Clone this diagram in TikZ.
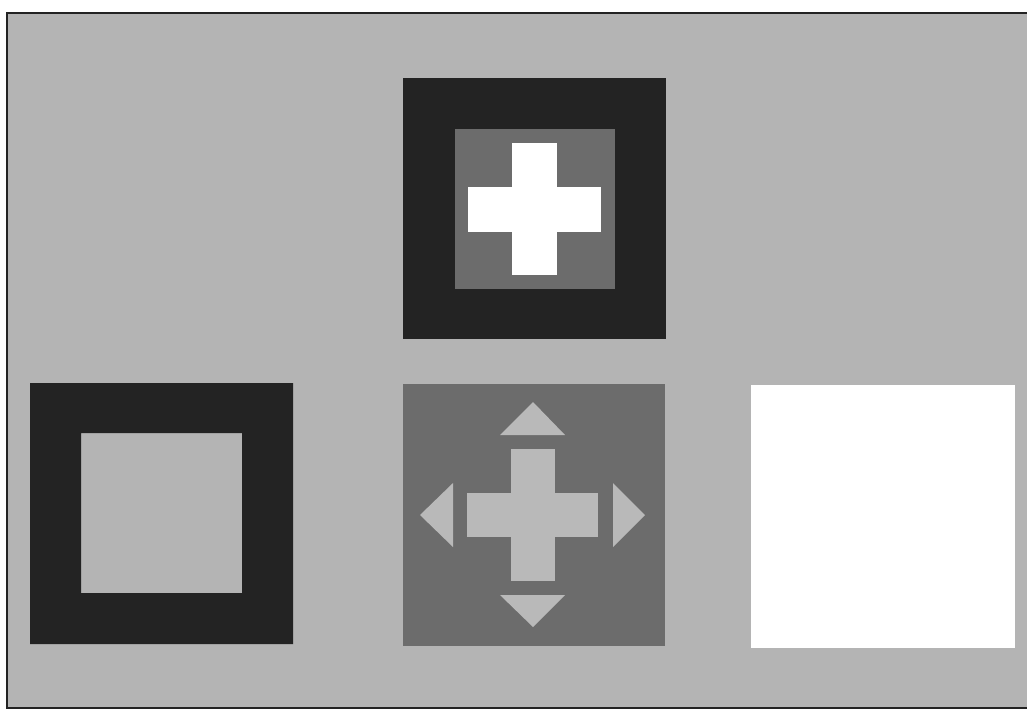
\documentclass[tikz,border=0pt]{standalone}
\usepackage{tikz}
\usepackage{xcolor}
\definecolor{paper}{HTML}{b4b4b4}
\definecolor{ink}{HTML}{232323}
\definecolor{mid}{HTML}{6c6c6c}
\definecolor{pale}{HTML}{b9b9b9}

\begin{document}
\begin{tikzpicture}[x=0.02cm, y=-0.02cm,
  frame/.style={draw=ink, line width=1.2pt},
  blk/.style={fill=ink},
  gry/.style={fill=mid},
  lit/.style={fill=pale},
  wht/.style={fill=white}
]
  \useasboundingbox (0,0) rectangle (1027,711);
  \fill[white] (0,0) rectangle (1027,711);
  \fill[paper] (7,13) rectangle (1027,708);
  \draw[frame] (1027,13) -- (7,13) -- (7,708) -- (1027,708);

  % top: dark frame, grey square, white cross
  \fill[blk] (403,78) rectangle (666,339);
  \fill[gry] (455,129) rectangle (615,289);
  \fill[wht] (512,143) rectangle (557,275);
  \fill[wht] (468,187) rectangle (601,232);

  % bottom left: dark frame with hole
  \fill[blk, even odd rule] (30,383) rectangle (293,644) (81,433) rectangle (242,593);

  % bottom middle: cross with four arrow heads
  \fill[gry] (403,384) rectangle (665,646);
  \fill[lit] (511,449) rectangle (555,581);
  \fill[lit] (467,493) rectangle (598,537);
  \fill[lit] (500,435) -- (565,435) -- (533,402) -- cycle;
  \fill[lit] (500,595) -- (565,595) -- (533,627) -- cycle;
  \fill[lit] (453,483) -- (453,547) -- (420,515) -- cycle;
  \fill[lit] (613,483) -- (613,547) -- (645,515) -- cycle;

  % bottom right: white square
  \fill[wht] (751,385) rectangle (1015,648);
\end{tikzpicture}
\end{document}
